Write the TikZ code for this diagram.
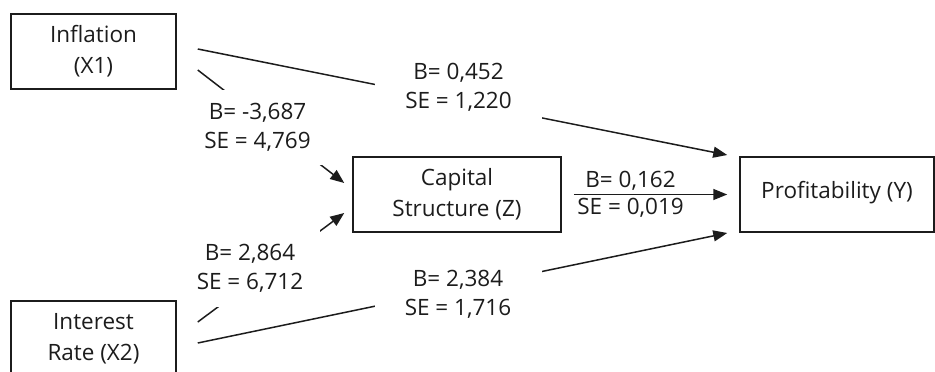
\documentclass[tikz,border=0pt]{standalone}
\usepackage{fontspec}
\setmainfont{Open Sans}
\usetikzlibrary{arrows.meta,calc}
\definecolor{ink}{HTML}{1C1C1C}
\tikzset{
  box/.style={draw=ink, line width=1.5pt, minimum width=#1, minimum height=75, inner sep=0pt, align=center,
    font=\fontsize{22.5}{31}\selectfont, text=ink},
  conn/.style={draw=ink, line width=1.5pt},
  arr/.style={conn, -{Triangle[length=14pt,width=11pt]}},
  lab/.style={fill=white, inner sep=0pt, align=center, font=\fontsize{22.5}{29}\selectfont, text=ink},
}
\begin{document}
\begin{tikzpicture}[x=1pt,y=-1pt]
\useasboundingbox (0,0) rectangle (935,372);
\node[box=165] (X1) at (93.5,51.5) {Inflation\\(X1)};
\node[box=165, minimum height=76] (X2) at (93.5,339) {Interest\\Rate (X2)};
\node[box=208] (Z) at (457,194.5) {Capital\\Structure (Z)};
\node[box=194] (Y) at (837,194.5) {\raisebox{10pt}{Profitability (Y)}};
% connectors
\draw[arr] ($(X1.east)+(21,-2.5)$) -- ($(Y.west)+(-12,-39.5)$);
\draw[arr] ($(X1.east)+(21,18.5)$) -- ($(Z.west)+(-8,-11.5)$);
\draw[arr] ($(X2.east)+(21,-17)$) -- ($(Z.west)+(-8,18.5)$);
\draw[arr] ($(X2.east)+(21,4)$) -- ($(Y.west)+(-12,38.5)$);
\draw[arr] ($(Z.east)+(12,0)$) -- ($(Y.west)+(-12,0)$)
  node[pos=.37, above, inner sep=3pt, font=\fontsize{22.5}{29}\selectfont, text=ink] (L5a) {B= 0,162}
  node[pos=.37, below, inner sep=3pt, font=\fontsize{22.5}{29}\selectfont, text=ink] (L5b) {SE = 0,019};
% labels on connectors
\node[lab, minimum width=167, minimum height=66] (L1) at (458.5,87.5) {B= 0,452\\SE = 1,220};
\node[lab, minimum width=140, minimum height=75] (L2) at (257.5,127.5) {B= -3,687\\SE = 4,769};
\node[lab, minimum width=140, minimum height=77] (L3) at (250,268.5) {B= 2,864\\SE = 6,712};
\node[lab, minimum width=167, minimum height=66] (L4) at (458,294.5) {B= 2,384\\SE = 1,716};
\end{tikzpicture}
\end{document}
